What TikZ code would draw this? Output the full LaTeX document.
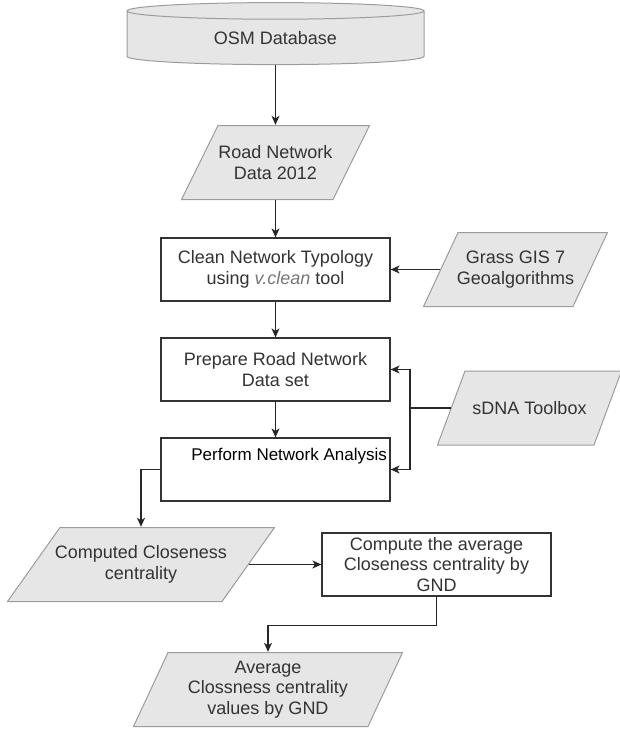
\documentclass[tikz,border=0pt]{standalone}
\usepackage{fontspec}
\setmainfont{Liberation Sans}
\usetikzlibrary{arrows.meta, shapes.geometric, positioning}

\definecolor{boxgray}{HTML}{E6E6E6}
\definecolor{edgegray}{HTML}{9C9C9C}
\definecolor{txtgray}{HTML}{333333}
\definecolor{txtlight}{HTML}{777777}

\begin{document}
\begin{tikzpicture}[x=1pt, y=-1pt,
  txt/.style={font=\fontsize{18}{20.5}\selectfont, text=txtgray, align=center},
  proc/.style={txt, rectangle, draw=black!80, line width=1.2pt, fill=white,
    minimum width=229pt, minimum height=63pt, inner sep=0pt},
  dataio/.style={txt, rectangle, minimum height=75pt, inner sep=0pt,
    path picture={\filldraw[draw=edgegray, fill=boxgray, line width=1pt]
      ([xshift=#1, yshift=-0.5pt]path picture bounding box.north west)
      -- ([xshift=-0.5pt, yshift=-0.5pt]path picture bounding box.north east)
      -- ([xshift=-#1, yshift=0.5pt]path picture bounding box.south east)
      -- ([xshift=0.5pt, yshift=0.5pt]path picture bounding box.south west) -- cycle;}},
  flow/.style={-{Stealth[length=9pt, width=8pt, inset=2.5pt]}, line width=1.2pt, black!85},
  link/.style={line width=1.2pt, black!85}]
\useasboundingbox (0,0) rectangle (620,729);

% Source database
\node[txt, cylinder, shape border rotate=90, aspect=0.135, draw=edgegray, fill=boxgray,
  line width=1pt, minimum width=297pt, minimum height=62pt, inner sep=0pt]
  (osm) at (275.5,38) {OSM Database};

% Main column
\node[dataio=37pt, minimum width=189pt] (road) at (275.5,162.5) {Road Network\\Data 2012};
\node[proc] (clean) at (275.5,269.5)
  {Clean Network Typology\\using {\itshape\color{txtlight}v.clean} tool};
\node[proc] (prepare) at (275.5,369.5) {Prepare Road Network\\Data set};
\node[proc, label={[txt, text=black, font=\fontsize{17}{20}\selectfont, anchor=north east,
  inner sep=0pt, xshift=-3.5pt, yshift=-11pt]north east:Perform Network Analysis}]
  (perform) at (275.5,469.5) {};

% Tools on the right
\node[dataio=35pt, minimum width=185pt] (grass) at (515.5,269.5) {Grass GIS 7\\Geoalgorithms};
\node[dataio=28pt, minimum width=185pt] (sdna) at (529.5,408) {sDNA Toolbox};

% Results
\node[dataio=53pt, minimum width=268pt] (computed) at (141,564.5)
  {Computed Closeness\\centrality};
\node[proc] (compute) at (436.5,564.5)
  {Compute the average\\Closeness centrality by\\GND};
\node[dataio=35pt, minimum width=270pt] (avg) at (268,689.5)
  {Average\\Clossness centrality\\values by GND};

% Connectors
\draw[flow] (osm.south) -- (road.north);
\draw[flow] (road.south) -- (clean.north);
\draw[flow] (clean.south) -- (prepare.north);
\draw[flow] (prepare.south) -- (perform.north);
\draw[flow] ([xshift=17.5pt]grass.west) -- (clean.east);

\coordinate (fork) at (410,408);
\draw[link] ([xshift=14pt]sdna.west) -- (fork);
\draw[flow] (fork) |- (prepare.east);
\draw[flow] (fork) |- (perform.east);

\draw[flow] (perform.west) -| (computed.north);
\draw[flow] ([xshift=-26.5pt]computed.east) -- (compute.west);
\draw[flow] (compute.south) -- ++(0,29) -| (avg.north);

\end{tikzpicture}
\end{document}
